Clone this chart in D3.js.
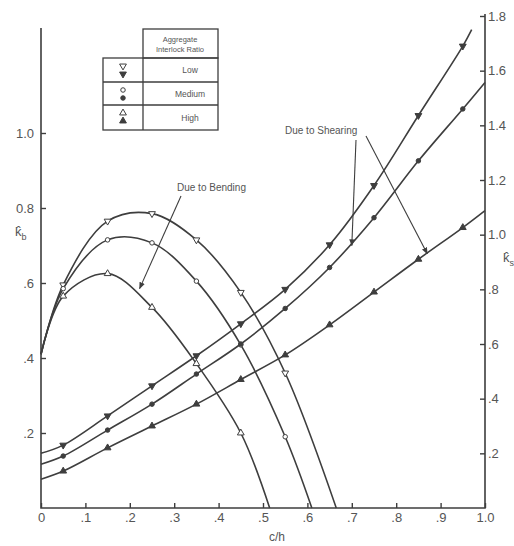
<!DOCTYPE html>
<html>
<head>
<meta charset="utf-8">
<script src="https://cdn.jsdelivr.net/npm/d3@7"></script>
<style>
body { margin: 0; background: #fff; }
text { font-family: "Liberation Sans", "DejaVu Sans", sans-serif; fill: #555; }
</style>
</head>
<body>
<svg id="chart" width="514" height="546"></svg>
<script>
"use strict";

// tick values / labels
var xTicks = [0, 0.1, 0.2, 0.3, 0.4, 0.5, 0.6, 0.7, 0.8, 0.9, 1.0];
var xTickLabels = ["0", ".1", ".2", ".3", ".4", ".5", ".6", ".7", ".8", ".9", "1.0"];
var kbTicks = [0.2, 0.4, 0.6, 0.8, 1.0];
var kbTickLabels = [".2", ".4", ".6", "0.8", "1.0"];
var ksTicks = [0.2, 0.4, 0.6, 0.8, 1.0, 1.2, 1.4, 1.6, 1.8];
var ksTickLabels = [".2", ".4", ".6", ".8", "1.0", "1.2", "1.4", "1.6", "1.8"];

// legend rows
var ratioNames = ["Low", "Medium", "High"];

// bending stiffness (left axis); first and last points are curve ends, no marker
var bendLowX = [0, 0.05, 0.15, 0.25, 0.35, 0.45, 0.55, 0.665];
var bendLowK = [0.41, 0.595, 0.765, 0.785, 0.715, 0.575, 0.36, 0];
var bendMedX = [0, 0.05, 0.15, 0.25, 0.35, 0.45, 0.55, 0.61];
var bendMedK = [0.41, 0.585, 0.715, 0.707, 0.605, 0.435, 0.19, 0];
var bendHighX = [0, 0.05, 0.15, 0.25, 0.35, 0.45, 0.515];
var bendHighK = [0.41, 0.565, 0.625, 0.535, 0.385, 0.2, 0];

// shearing stiffness (right axis)
var shearLowX = [0, 0.05, 0.15, 0.25, 0.35, 0.45, 0.55, 0.65, 0.75, 0.85, 0.95, 0.97];
var shearLowK = [0.2, 0.23, 0.337, 0.447, 0.557, 0.674, 0.8, 0.963, 1.18, 1.436, 1.69, 1.75];
var shearMedX = [0, 0.05, 0.15, 0.25, 0.35, 0.45, 0.55, 0.65, 0.75, 0.85, 0.95, 1.0];
var shearMedK = [0.16, 0.19, 0.285, 0.38, 0.49, 0.6, 0.73, 0.88, 1.062, 1.27, 1.46, 1.557];
var shearHighX = [0, 0.05, 0.15, 0.25, 0.35, 0.45, 0.55, 0.65, 0.75, 0.85, 0.95, 1.0];
var shearHighK = [0.105, 0.135, 0.22, 0.3, 0.38, 0.47, 0.56, 0.67, 0.79, 0.91, 1.026, 1.088];

var INK = "#3e3e3e";

document.addEventListener("DOMContentLoaded", init);

function init() {
	var svg = d3.select("#chart");

	var x = d3.scaleLinear().domain([0, 1]).range([41, 485]);
	var yB = d3.scaleLinear().domain([0, 1]).range([508, 133]);
	var yS = d3.scaleLinear().domain([0, 1.8]).range([508, 16]);

	svg.append("defs").append("marker")
	   .attr("id", "arrow")
	   .attr("viewBox", "0 0 10 10")
	   .attr("refX", 9).attr("refY", 5)
	   .attr("markerWidth", 7).attr("markerHeight", 7)
	   .attr("markerUnits", "userSpaceOnUse")
	   .attr("orient", "auto")
	   .append("path")
	   .attr("d", "M0,1 L10,5 L0,9 Z")
	   .attr("fill", INK);

	// frame
	var frame = svg.append("g").attr("stroke", INK).attr("stroke-width", 1.6).attr("fill", "none");
	frame.append("path").attr("d", d3.line()([[x(0), 28], [x(0), yB(0)], [x(1), yB(0)], [x(1), yS(1.8) - 2]]));

	// axes
	var axB = svg.append("g").attr("transform", "translate(0," + yB(0) + ")")
		.call(d3.axisBottom(x).tickValues(xTicks).tickFormat((d, i) => xTickLabels[i])
			.tickSizeInner(-5).tickSizeOuter(0).tickPadding(5));
	var axL = svg.append("g").attr("transform", "translate(" + x(0) + ",0)")
		.call(d3.axisLeft(yB).tickValues(kbTicks).tickFormat((d, i) => kbTickLabels[i])
			.tickSizeInner(-5).tickSizeOuter(0).tickPadding(7));
	var axR = svg.append("g").attr("transform", "translate(" + x(1) + ",0)")
		.call(d3.axisRight(yS).tickValues(ksTicks).tickFormat((d, i) => ksTickLabels[i])
			.tickSizeInner(-5).tickSizeOuter(0).tickPadding(3));
	[axB, axL, axR].forEach(function(ax) {
		ax.select(".domain").remove();
		ax.selectAll("line").attr("stroke", INK).attr("stroke-width", 1.4);
		ax.selectAll("text").attr("font-size", 13).attr("fill", "#555").style("font-family", "'Liberation Sans', sans-serif");
	});

	// axis titles
	svg.append("text").attr("x", 277).attr("y", 541).attr("text-anchor", "middle")
	   .attr("font-size", 12).text("c/h");
	var kb = svg.append("text").attr("x", 15).attr("y", 236).attr("font-size", 13);
	kb.append("tspan").text("k\u0302");
	kb.append("tspan").attr("dy", 4).attr("font-size", 9).text("b");
	var ks = svg.append("text").attr("x", 503).attr("y", 262).attr("font-size", 13);
	ks.append("tspan").text("k\u0302");
	ks.append("tspan").attr("dy", 4).attr("font-size", 9).text("s");

	var curve = d3.line().curve(d3.curveCatmullRom.alpha(0.5));

	var series = [
		{xs: bendLowX,   ks: bendLowK,   y: yB, sym: "down", filled: false},
		{xs: bendMedX,   ks: bendMedK,   y: yB, sym: "circle", filled: false},
		{xs: bendHighX,  ks: bendHighK,  y: yB, sym: "up", filled: false},
		{xs: shearLowX,  ks: shearLowK,  y: yS, sym: "down", filled: true},
		{xs: shearMedX,  ks: shearMedK,  y: yS, sym: "circle", filled: true},
		{xs: shearHighX, ks: shearHighK, y: yS, sym: "up", filled: true}
	];

	var plot = svg.append("g");
	series.forEach(function(s) {
		var pts = s.xs.map((v, i) => [x(v), s.y(s.ks[i])]);
		plot.append("path")
		    .attr("d", curve(pts))
		    .attr("fill", "none")
		    .attr("stroke", INK)
		    .attr("stroke-width", 1.6);
		pts.slice(1, -1).forEach(function(p) {
			drawSymbol(plot, s.sym, s.filled, p[0], p[1]);
		});
	});

	// annotations
	svg.append("text").attr("x", 177).attr("y", 191).attr("font-size", 10).text("Due to Bending");
	svg.append("line")
	   .attr("x1", 181).attr("y1", 196).attr("x2", x(0.222)).attr("y2", yB(0.585))
	   .attr("stroke", INK).attr("stroke-width", 1.1).attr("marker-end", "url(#arrow)");

	svg.append("text").attr("x", 285).attr("y", 134).attr("font-size", 10).text("Due to Shearing");
	svg.append("line")
	   .attr("x1", 366).attr("y1", 136).attr("x2", x(0.87)).attr("y2", yS(0.93))
	   .attr("stroke", INK).attr("stroke-width", 1.1).attr("marker-end", "url(#arrow)");
	svg.append("line")
	   .attr("x1", 356).attr("y1", 140).attr("x2", x(0.7)).attr("y2", yS(0.96))
	   .attr("stroke", INK).attr("stroke-width", 1.1).attr("marker-end", "url(#arrow)");

	drawLegend(svg);
}

function drawSymbol(g, sym, filled, cx, cy) {
	var type = sym == "circle" ? d3.symbolCircle : d3.symbolTriangle;
	var size = sym == "circle" ? 16 : 20;
	g.append("path")
	 .attr("d", d3.symbol().type(type).size(size)())
	 .attr("transform", "translate(" + cx + "," + cy + ")" + (sym == "down" ? " rotate(180)" : ""))
	 .attr("fill", filled ? INK : "#fff")
	 .attr("stroke", INK)
	 .attr("stroke-width", 1);
}

function drawLegend(svg) {
	var g = svg.append("g");
	var lines = g.append("g").attr("stroke", INK).attr("stroke-width", 1.3).attr("fill", "none");
	var rowY = [58, 82, 105, 130];
	lines.append("rect").attr("x", 143).attr("y", 29).attr("width", 75).attr("height", 29);
	lines.append("rect").attr("x", 103).attr("y", 58).attr("width", 115).attr("height", 72);
	lines.append("line").attr("x1", 143).attr("x2", 143).attr("y1", 58).attr("y2", 130);
	rowY.slice(1, 3).forEach(function(yy) {
		lines.append("line").attr("x1", 103).attr("x2", 218).attr("y1", yy).attr("y2", yy);
	});

	g.append("text").attr("x", 180).attr("y", 42).attr("text-anchor", "middle")
	 .attr("font-size", 7.5).text("Aggregate");
	g.append("text").attr("x", 180).attr("y", 52).attr("text-anchor", "middle")
	 .attr("font-size", 7.5).text("Interlock Ratio");

	var syms = ["down", "circle", "up"];
	ratioNames.forEach(function(name, i) {
		var top = rowY[i];
		var bottom = rowY[i + 1];
		drawSymbol(g, syms[i], false, 123, top + 8);
		drawSymbol(g, syms[i], true, 123, top + 16);
		g.append("text").attr("x", 190).attr("y", (top + bottom) / 2 + 3)
		 .attr("text-anchor", "middle").attr("font-size", 8.5).text(name);
	});
}
</script>
</body>
</html>
